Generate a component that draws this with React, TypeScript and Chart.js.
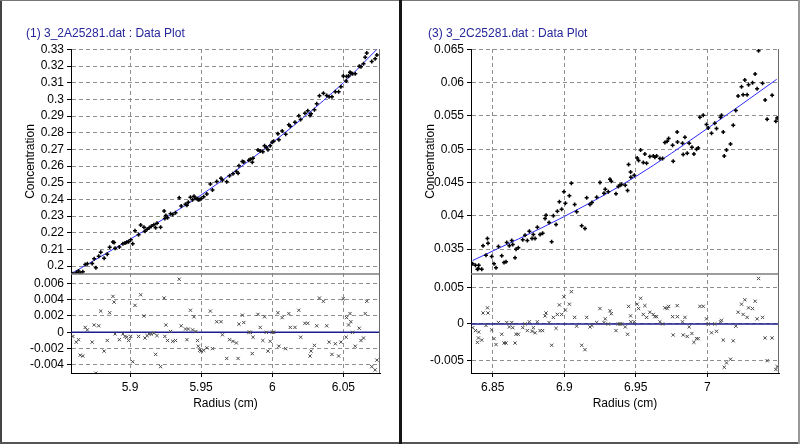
import React, { useEffect, useRef } from 'react';
import { Chart, registerables } from 'chart.js';

Chart.register(...registerables);

// ---------- Left panel data: (1) 3_2A25281.dat ----------
const leftRadius = [
  5.8598, 5.8622, 5.8638, 5.865, 5.8668, 5.8685, 5.87, 5.8734, 5.8748, 5.876,
  5.878, 5.8794, 5.8818, 5.884, 5.8857, 5.888, 5.8888, 5.8895, 5.8925, 5.895,
  5.8965, 5.8977, 5.899, 5.9005, 5.9019, 5.9035, 5.906, 5.9075, 5.9098, 5.9105,
  5.912, 5.9135, 5.915, 5.9168, 5.918, 5.919, 5.9215, 5.924, 5.9245, 5.9252,
  5.9264, 5.9285, 5.93, 5.932, 5.9346, 5.936, 5.939, 5.94, 5.941, 5.9425,
  5.944, 5.945, 5.9463, 5.9475, 5.948, 5.949, 5.95, 5.9518, 5.954, 5.9565,
  5.958, 5.961, 5.964, 5.965, 5.968, 5.97, 5.9724, 5.9748, 5.976, 5.9766,
  5.979, 5.98, 5.9836, 5.9846, 5.986, 5.9865, 5.99, 5.9916, 5.9934, 5.9946,
  5.9958, 5.997, 5.9986, 6.0, 6.001, 6.004, 6.0047, 6.007, 6.0095, 6.0117,
  6.0127, 6.016, 6.0187, 6.02, 6.023, 6.025, 6.0266, 6.0273, 6.0297, 6.0313,
  6.0332, 6.036, 6.0383, 6.04, 6.042, 6.0444, 6.0467, 6.0483, 6.05, 6.052,
  6.0523, 6.0537, 6.0547, 6.0553, 6.0565, 6.0584, 6.0612, 6.0624, 6.0642, 6.0654,
  6.0665, 6.07, 6.0724, 6.0736,
];
const leftConc = [
  0.1955, 0.196, 0.1971, 0.1958, 0.1966, 0.201, 0.2014, 0.2016, 0.2044, 0.1991,
  0.2059, 0.2084, 0.2047, 0.2071, 0.2114, 0.2145, 0.2142, 0.2107, 0.2115, 0.2134,
  0.2139, 0.2144, 0.2146, 0.2159, 0.2135, 0.2213, 0.2188, 0.2247, 0.2233, 0.221,
  0.2221, 0.2231, 0.2239, 0.2249, 0.223, 0.2258, 0.2233, 0.2331, 0.2286, 0.2304,
  0.2291, 0.2314, 0.231, 0.2321, 0.241, 0.2361, 0.2372, 0.2365, 0.2383, 0.2414,
  0.2398, 0.2419, 0.2408, 0.2404, 0.2399, 0.24, 0.2404, 0.2416, 0.2433, 0.2493,
  0.2457, 0.2508, 0.2527, 0.2517, 0.2507, 0.2542, 0.2555, 0.2568, 0.2557, 0.2602,
  0.2628, 0.2625, 0.2636, 0.2642, 0.2624, 0.2648, 0.2697, 0.2691, 0.2686, 0.2723,
  0.2712, 0.2698, 0.2722, 0.2743, 0.275, 0.2795, 0.2759, 0.2811, 0.2791, 0.2849,
  0.2839, 0.2863, 0.2903, 0.288, 0.2918, 0.2932, 0.2904, 0.2915, 0.2939, 0.2974,
  0.3022, 0.3038, 0.3024, 0.3017, 0.3016, 0.3046, 0.3047, 0.3076, 0.3141, 0.3111,
  0.3138, 0.3141, 0.3163, 0.3158, 0.3155, 0.3155, 0.32, 0.3196, 0.3214, 0.3254,
  0.3279, 0.3228, 0.3245, 0.3267,
];
const leftResid = [
  -0.0005, -0.0012, -0.0009, -0.0028, -0.0029, 0.0006, 0.0003, -0.0012, 0.0009, -0.005,
  0.0008, 0.0026, -0.0023, -0.001, 0.0024, 0.0044, 0.0037, -0.0002, -0.0009, -0.0002,
  -0.0005, -0.0006, -0.001, -0.0005, -0.0036, 0.0033, -0.0005, 0.0046, 0.002, -0.0007,
  -0.0004, -0.0002, -0.0002, -0.0001, -0.0027, -0.0004, -0.0042, 0.0042, -0.0005, 0.0009,
  -0.001, 0.0001, -0.0011, -0.001, 0.0065, 0.0008, 0.0004, -0.0009, 0.0004, 0.0027,
  0.0003, 0.0019, 0.0001, -0.001, -0.0017, -0.0022, -0.0023, -0.0022, -0.0019, 0.0026,
  -0.002, 0.0013, 0.0013, -0.0003, -0.0032, -0.0009, -0.0011, -0.0013, -0.0032, 0.001,
  0.0021, 0.0012, 0, 0, -0.0026, -0.0006, 0.0022, 0.0006, -0.001, 0.0019,
  0, -0.0023, -0.0011, 0, 0, 0.0024, -0.0017, 0.0018, -0.002, 0.0023,
  0.0006, 0.0006, 0.0027, -0.0006, 0.0011, 0.0011, -0.0029, -0.0023, -0.0016, 0.0008,
  0.0042, 0.0038, 0.0008, -0.0012, -0.0027, -0.0014, -0.0029, -0.0012, 0.0041, -0.0006,
  0.0018, 0.0009, 0.0023, 0.0013, 0, -0.0017, 0.0005, -0.001, -0.0007, 0.0023,
  0.0038, -0.0042, -0.0046, -0.0034,
];
const leftFitRadius = [5.8593, 5.9, 5.95, 5.994, 6.05, 6.0735];
const leftFitConc = [0.1958, 0.2161, 0.2427, 0.27, 0.31, 0.33];
const leftZeroRadius = [5.8585, 6.0758];
const leftZeroResid = [0, 0];
const leftRadiusTicks = [5.9, 5.95, 6, 6.05];
const leftConcTicks = [0.2, 0.21, 0.22, 0.23, 0.24, 0.25, 0.26, 0.27, 0.28, 0.29, 0.3, 0.31, 0.32, 0.33];
const leftResidTicks = [-0.004, -0.002, 0, 0.002, 0.004, 0.006];

// ---------- Right panel data: (3) 3_2C25281.dat ----------
const rightRadius = [
  6.836, 6.8379, 6.8393, 6.8402, 6.84, 6.8423, 6.8432, 6.8453, 6.8463, 6.8467,
  6.8493, 6.8509, 6.8523, 6.854, 6.8563, 6.8579, 6.8593, 6.8598, 6.8616, 6.8633,
  6.864, 6.8656, 6.8663, 6.8679, 6.871, 6.8726, 6.8742, 6.8756, 6.8775, 6.8784,
  6.8796, 6.8812, 6.8831, 6.8849, 6.8866, 6.8873, 6.8894, 6.8912, 6.8924, 6.8943,
  6.8952, 6.8966, 6.8982, 6.8998, 6.9008, 6.9036, 6.905, 6.9073, 6.9087, 6.9122,
  6.9145, 6.9157, 6.918, 6.9194, 6.9227, 6.925, 6.9278, 6.9287, 6.9308, 6.932,
  6.9329, 6.9362, 6.9378, 6.939, 6.9401, 6.9427, 6.9443, 6.945, 6.9464, 6.9466,
  6.949, 6.951, 6.952, 6.9534, 6.9553, 6.9564, 6.9576, 6.9599, 6.9623, 6.9634,
  6.9646, 6.9669, 6.9688, 6.9704, 6.972, 6.973, 6.9758, 6.9762, 6.979, 6.9792,
  6.9827, 6.9832, 6.9844, 6.986, 6.9874, 6.9893, 6.9907, 6.9925, 6.9937, 6.9949,
  6.9972, 6.9995, 7.0007, 7.003, 7.0053, 7.0065, 7.0093, 7.01, 7.0112, 7.0119,
  7.0135, 7.0163, 7.0182, 7.02, 7.0216, 7.024, 7.0251, 7.0263, 7.0279, 7.0289,
  7.0317, 7.0335, 7.0349, 7.0359, 7.0387, 7.0405, 7.0419, 7.0454, 7.048, 7.0489,
];
const rightConc = [
  0.0328, 0.0326, 0.032, 0.0326, 0.0321, 0.032, 0.0355, 0.0341, 0.0366, 0.0359,
  0.0339, 0.0328, 0.0322, 0.0354, 0.034, 0.033, 0.0331, 0.036, 0.0355, 0.0363,
  0.0357, 0.0337, 0.035, 0.0352, 0.0364, 0.0371, 0.0363, 0.0377, 0.0366, 0.0372,
  0.0366, 0.0383, 0.0372, 0.0374, 0.0396, 0.0401, 0.039, 0.0361, 0.04, 0.0387,
  0.0407, 0.0421, 0.041, 0.0436, 0.0419, 0.043, 0.0449, 0.0417, 0.0406, 0.0385,
  0.0381, 0.0427, 0.0417, 0.042, 0.0428, 0.045, 0.0434, 0.044, 0.0436, 0.0455,
  0.0452, 0.0433, 0.0444, 0.0446, 0.0447, 0.0446, 0.0438, 0.0477, 0.0466, 0.0458,
  0.0461, 0.0487, 0.0483, 0.0499, 0.048, 0.0493, 0.0479, 0.0489, 0.049, 0.0488,
  0.049, 0.0486, 0.0486, 0.051, 0.0512, 0.0516, 0.0506, 0.0482, 0.0526, 0.0511,
  0.0509, 0.0492, 0.0518, 0.0494, 0.0509, 0.0503, 0.0493, 0.05, 0.0502, 0.0548,
  0.0551, 0.0537, 0.0532, 0.0524, 0.0539, 0.0531, 0.0548, 0.0551, 0.0526, 0.049,
  0.0499, 0.0508, 0.0536, 0.0558, 0.058, 0.0594, 0.0582, 0.0604, 0.0582, 0.0597,
  0.06, 0.0613, 0.0591, 0.0648, 0.0599, 0.0574, 0.0545, 0.0581, 0.0542, 0.0547,
];
const rightResid = [
  -0.0005, -0.0009, -0.0025, -0.0011, -0.0019, -0.0022, 0.0015, -0.0002, 0.0022, 0.0015,
  -0.0008, -0.002, -0.0028, 0.0002, -0.0014, -0.0026, -0.0026, 0.0002, -0.0004, 0.0002,
  -0.0005, -0.0026, -0.0014, -0.0014, -0.0005, 0, -0.0009, 0.0003, -0.001, -0.0005,
  -0.0012, 0.0003, -0.0009, -0.0009, 0.0011, 0.0015, 0.0002, -0.0029, 0.0009, -0.0006,
  0.0013, 0.0026, 0.0013, 0.0037, 0.0019, 0.0027, 0.0044, 0.0009, -0.0003, -0.0029,
  -0.0035, 0.0009, -0.0004, -0.0002, 0.0002, 0.0021, 0.0002, 0.0007, 0, 0.0018,
  0.0014, -0.0009, 0, 0, 0, -0.0004, -0.0014, 0.0024, 0.0011, 0.0003,
  0.0003, 0.0027, 0.0021, 0.0035, 0.0013, 0.0025, 0.0009, 0.0016, 0.0013, 0.001,
  0.001, 0.0003, 0, 0.0022, 0.0021, 0.0024, 0.001, -0.0015, 0.0025, 0.001,
  0.0003, -0.0015, 0.0009, -0.0017, -0.0004, -0.0013, -0.0025, -0.002, -0.002, 0.0024,
  0.0024, 0.0007, 0, -0.0012, 0, -0.001, 0.0003, 0.0005, -0.0022, -0.0059,
  -0.0053, -0.0048, -0.0023, -0.0003, 0.0016, 0.0027, 0.0013, 0.0033, 0.0009, 0.0022,
  0.0021, 0.0031, 0.0007, 0.0062, 0.0009, -0.0019, -0.005, -0.0019, -0.0062, -0.0058,
];
const rightFitRadius = [6.836, 6.9, 6.95, 7.0, 7.0486];
const rightFitConc = [0.0333, 0.0399, 0.0459, 0.0531, 0.0605];
const rightZeroRadius = [6.8348, 7.0502];
const rightZeroResid = [0, 0];
const rightRadiusTicks = [6.85, 6.9, 6.95, 7];
const rightConcTicks = [0.035, 0.04, 0.045, 0.05, 0.055, 0.06, 0.065];
const rightResidTicks = [-0.005, 0, 0.005];

const FONT = "'Liberation Sans', Arial, Helvetica, sans-serif";
Chart.defaults.font.family = FONT;
Chart.defaults.font.size = 12;
Chart.defaults.color = '#000';

type PanelCfg = {
  title: string;
  radius: number[];
  conc: number[];
  resid: number[];
  fitRadius: number[];
  fitConc: number[];
  zeroRadius: number[];
  zeroResid: number[];
  radiusTicks: number[];
  concTicks: number[];
  residTicks: number[];
  xRange: [number, number];
  concRange: [number, number];
  residRange: [number, number];
  padLeft: number;
  padRight: number;
};

const pts = (xs: number[], ys: number[]) => xs.map((x, i) => ({ x, y: ys[i] }));

const framePlugin = {
  id: 'panelFrame',
  afterDatasetsDraw(chart: any) {
    const { ctx, chartArea } = chart;
    const yData = chart.scales.y;
    ctx.save();
    ctx.setLineDash([]);
    ctx.strokeStyle = '#7d7d7d';
    ctx.lineWidth = 1.5;
    ctx.beginPath();
    ctx.moveTo(chartArea.left, yData.bottom);
    ctx.lineTo(chartArea.right, yData.bottom);
    ctx.stroke();
    ctx.strokeStyle = '#6a6a6a';
    ctx.lineWidth = 1;
    ctx.beginPath();
    ctx.moveTo(chartArea.right - 0.5, chartArea.top);
    ctx.lineTo(chartArea.right - 0.5, chartArea.bottom);
    ctx.stroke();
    ctx.restore();
  },
};

const gridCommon = {
  color: '#8f8f8f',
  lineWidth: 1,
  borderDash: [4, 3],
  tickColor: '#000',
  tickLength: 4,
  tickBorderDash: [],
};

function buildConfig(c: PanelCfg): any {
  const setTicks = (vals: number[]) => (scale: any) => {
    scale.ticks = vals.map((v) => ({ value: v }));
  };
  return {
    type: 'scatter',
    data: {
      datasets: [
        {
          data: pts(c.radius, c.conc),
          yAxisID: 'y',
          pointStyle: 'cross',
          pointRadius: 2,
          pointBorderWidth: 1.5,
          borderColor: '#000',
          backgroundColor: '#000',
        },
        {
          data: pts(c.fitRadius, c.fitConc),
          yAxisID: 'y',
          showLine: true,
          pointRadius: 0,
          borderColor: '#2b2bff',
          borderWidth: 1,
          cubicInterpolationMode: 'monotone',
        },
        {
          data: pts(c.radius, c.resid),
          yAxisID: 'y2',
          pointStyle: 'crossRot',
          pointRadius: 2.3,
          pointBorderWidth: 1,
          borderColor: '#4a4a4a',
          backgroundColor: '#4a4a4a',
        },
        {
          data: pts(c.zeroRadius, c.zeroResid),
          yAxisID: 'y2',
          showLine: true,
          pointRadius: 0,
          borderColor: '#1c1c90',
          borderWidth: 1.5,
        },
      ],
    },
    options: {
      responsive: false,
      animation: false,
      events: [],
      layout: { padding: { left: c.padLeft, right: c.padRight, top: 49, bottom: 0 } },
      plugins: { legend: { display: false }, tooltip: { enabled: false }, title: { display: false } },
      scales: {
        x: {
          type: 'linear',
          min: c.xRange[0],
          max: c.xRange[1],
          afterBuildTicks: setTicks(c.radiusTicks),
          afterFit: (s: any) => { s.height = 42; },
          ticks: { autoSkip: false, maxRotation: 0, color: '#000', padding: 3, callback: (v: number) => String(v) },
          grid: gridCommon,
          border: { display: true, color: '#000', width: 1, dash: [4, 3] },
          title: { display: true, text: 'Radius (cm)', color: '#000', font: { size: 12 }, padding: { top: 4, bottom: 4 } },
        },
        y2: {
          type: 'linear',
          position: 'left',
          stack: 'panel',
          stackWeight: 99,
          min: c.residRange[0],
          max: c.residRange[1],
          afterBuildTicks: setTicks(c.residTicks),
          afterFit: (s: any) => { s.width = 52; },
          ticks: { autoSkip: false, color: '#000', padding: 3, callback: (v: number) => String(v) },
          grid: gridCommon,
          border: { display: true, color: '#000', width: 1, dash: [4, 3] },
        },
        y: {
          type: 'linear',
          position: 'left',
          stack: 'panel',
          stackWeight: 225,
          min: c.concRange[0],
          max: c.concRange[1],
          afterBuildTicks: setTicks(c.concTicks),
          afterFit: (s: any) => { s.width = 52; },
          ticks: { autoSkip: false, color: '#000', padding: 3, callback: (v: number) => String(v) },
          grid: gridCommon,
          border: { display: true, color: '#000', width: 1, dash: [4, 3] },
          title: { display: true, text: 'Concentration', color: '#000', font: { size: 12 }, padding: { top: 4, bottom: 4 } },
        },
      },
    },
    plugins: [framePlugin],
  };
}

const leftCfg: PanelCfg = {
  title: '(1) 3_2A25281.dat : Data Plot',
  radius: leftRadius,
  conc: leftConc,
  resid: leftResid,
  fitRadius: leftFitRadius,
  fitConc: leftFitConc,
  zeroRadius: leftZeroRadius,
  zeroResid: leftZeroResid,
  radiusTicks: leftRadiusTicks,
  concTicks: leftConcTicks,
  residTicks: leftResidTicks,
  xRange: [5.8585, 6.0758],
  concRange: [0.1953, 0.3303],
  residRange: [-0.00498, 0.00714],
  padLeft: 19,
  padRight: 19,
};

const rightCfg: PanelCfg = {
  title: '(3) 3_2C25281.dat : Data Plot',
  radius: rightRadius,
  conc: rightConc,
  resid: rightResid,
  fitRadius: rightFitRadius,
  fitConc: rightFitConc,
  zeroRadius: rightZeroRadius,
  zeroResid: rightZeroResid,
  radiusTicks: rightRadiusTicks,
  concTicks: rightConcTicks,
  residTicks: rightResidTicks,
  xRange: [6.8348, 7.0502],
  concRange: [0.03127, 0.06505],
  residRange: [-0.00668, 0.00681],
  padLeft: 17,
  padRight: 21,
};

function Panel({ cfg, left, width }: { cfg: PanelCfg; left: number; width: number }) {
  const ref = useRef<HTMLCanvasElement>(null);
  useEffect(() => {
    if (!ref.current) return;
    const chart = new Chart(ref.current, buildConfig(cfg));
    return () => chart.destroy();
  }, [cfg]);
  return (
    <>
      <canvas
        ref={ref}
        width={width}
        height={415}
        style={{ position: 'absolute', left, top: 0, width, height: 415, display: 'block' }}
      />
      <div
        style={{
          position: 'absolute',
          left: left + 26,
          top: 26,
          font: `12px ${FONT}`,
          lineHeight: '14px',
          color: '#26269a',
          whiteSpace: 'nowrap',
        }}
      >
        {cfg.title}
      </div>
    </>
  );
}

export default function App() {
  useEffect(() => {
    document.body.style.margin = '0';
  }, []);
  return (
    <div style={{ position: 'absolute', left: 0, top: 0, width: 800, height: 444, background: '#fff', overflow: 'hidden' }}>
      <Panel cfg={leftCfg} left={0} width={399} />
      <Panel cfg={rightCfg} left={402} width={398} />
      {/* frame */}
      <div style={{ position: 'absolute', left: 0, top: 0, width: 2, height: 444, background: '#444' }} />
      <div style={{ position: 'absolute', left: 0, top: 0, width: 800, height: 1, background: '#777' }} />
      <div style={{ position: 'absolute', left: 0, top: 442, width: 800, height: 2, background: '#555' }} />
      <div style={{ position: 'absolute', left: 798, top: 0, width: 2, height: 444, background: '#999' }} />
      <div style={{ position: 'absolute', left: 399, top: 0, width: 3, height: 444, background: '#151515' }} />
    </div>
  );
}
